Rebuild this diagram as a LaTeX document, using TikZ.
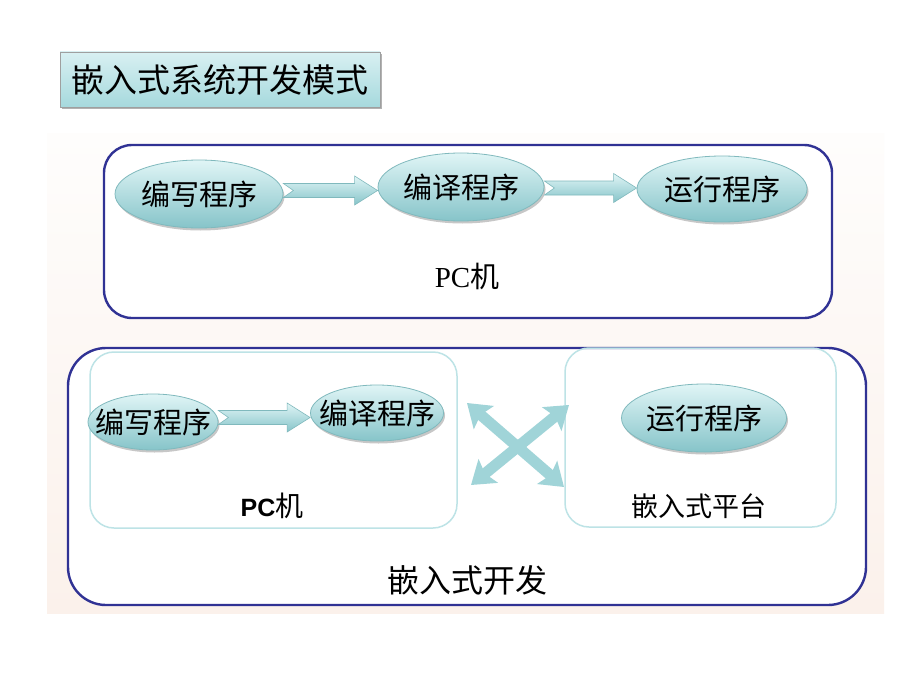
\documentclass[tikz,border=0pt]{standalone}
\usepackage{fontspec}
\setmainfont{Liberation Serif}
\setsansfont{Liberation Sans}
\newfontfamily\cjk{Noto Sans CJK SC}
\usetikzlibrary{shapes.geometric,arrows.meta,shadows,calc}
\definecolor{navy}{RGB}{48,50,148}
\definecolor{elltop}{HTML}{E0F5F6}
\definecolor{ellbot}{HTML}{86C4C9}
\definecolor{ellline}{HTML}{80B9BD}
\definecolor{innerline}{HTML}{BDE3E6}
\definecolor{arrcol}{HTML}{A0D4D8}
\definecolor{ttop}{HTML}{D8F0F2}
\definecolor{tbot}{HTML}{A6D9DD}
\definecolor{bgtop}{HTML}{FEFDFC}
\definecolor{bgbot}{HTML}{FBF1EB}
\tikzset{
  ell/.style={ellipse, inner sep=0pt, top color=elltop, bottom color=ellbot,
    draw=ellline, line width=0.8pt,
    drop shadow={shadow xshift=1.5pt, shadow yshift=-2.5pt, opacity=0.22, fill=black}},
  lbl/.style={font=\cjk\fontsize{29}{32}\selectfont, text=black, inner sep=0pt},
  outerbox/.style={draw=navy, line width=2.4pt, fill=white, rectangle, inner sep=0pt},
  innerbox/.style={draw=innerline, line width=1.5pt, rectangle, rounded corners=24pt, inner sep=0pt},
  chev/.style={top color=elltop, bottom color=ellbot, draw=ellline, line width=0.6pt},
  xarr/.style={line width=11pt, draw=arrcol,
    arrows={Stealth[width=30pt,length=22pt,inset=4pt]-Stealth[width=30pt,length=22pt,inset=4pt]}},
  txt/.style={inner sep=0pt, text=black}
}
\newcommand\chevarrow[2]{%
  \path[chev] let \p1=(#1), \p2=(#2), \p3=($(\p1)!0.5!(\p2)$) in
    (\x1,\y3+7pt) -- (\x2-23pt,\y3+7pt) -- (\x2-23pt,\y3+14.5pt) -- (\x2,\y3)
    -- (\x2-23pt,\y3-14.5pt) -- (\x2-23pt,\y3-7pt) -- (\x1,\y3-7pt) -- (\x1+10pt,\y3) -- cycle;}
\begin{document}
\begin{tikzpicture}[x=1pt,y=-1pt]
\useasboundingbox[fill=white] (0,0) rectangle (920,690);
% background panel
\path[top color=bgtop, bottom color=bgbot] (47,133) rectangle (884,613);
% title
\node[rectangle, minimum width=320pt, minimum height=55pt, inner sep=0pt,
  top color=ttop, bottom color=tbot, draw=gray!75, line width=0.9pt,
  drop shadow={shadow xshift=2pt, shadow yshift=-2.5pt, opacity=0.3, fill=black}]
  (title) at (220,79.5) {};
\node[txt, font=\cjk\fontsize{33}{36}\selectfont] (titletext) at (title.center) {嵌入式系统开发模式};
% top box: PC
\node[outerbox, rounded corners=28pt, minimum width=728pt, minimum height=173pt] (pcbox) at (468,231.5) {};
\node[ell, minimum width=168pt, minimum height=68pt, label={[lbl]center:编写程序}] (a1) at (199,194) {};
\node[ell, minimum width=166pt, minimum height=68pt, label={[lbl]center:编译程序}] (a2) at (461,187) {};
\node[ell, minimum width=170pt, minimum height=66pt, label={[lbl]center:运行程序}] (a3) at (722,189) {};
\chevarrow{a1.east}{a2.west}
\chevarrow{a2.east}{a3.west}
\node[txt, font=\fontsize{29}{32}\selectfont] (pclabel) at (467,276) {PC{\cjk 机}};
% bottom box: embedded development
\node[outerbox, rounded corners=38pt, minimum width=798pt, minimum height=257pt] (devbox) at (467,476.5) {};
\node[innerbox, minimum width=367pt, minimum height=176pt] (pcin) at (273.5,440) {};
\node[innerbox, minimum width=271pt, minimum height=179pt] (embin) at (700.5,437.5) {};
\node[ell, minimum width=130pt, minimum height=56pt, label={[lbl]center:编写程序}] (b1) at (153,422) {};
\node[ell, minimum width=133pt, minimum height=56pt, label={[lbl]center:编译程序}] (b2) at (377,413) {};
\node[ell, minimum width=165pt, minimum height=68pt, label={[lbl]center:运行程序}] (b3) at (704,418) {};
\chevarrow{b1.east}{b2.west}
\node[txt] (pclabel2) at (272,506) {{\sffamily\bfseries\fontsize{25}{28}\selectfont PC}{\cjk\fontsize{28}{30}\selectfont 机}};
\node[txt, font=\cjk\fontsize{27}{30}\selectfont] (emblabel) at (699,506) {嵌入式平台};
\node[txt, font=\cjk\fontsize{32}{35}\selectfont] (devlabel) at (467,580) {嵌入式开发};
% cross arrows
\coordinate (x1) at (467,403);
\coordinate (x2) at (564,487);
\coordinate (x3) at (471,485);
\coordinate (x4) at (569,405);
\draw[xarr] (x1) -- (x2);
\draw[xarr] (x3) -- (x4);
\end{tikzpicture}
\end{document}
